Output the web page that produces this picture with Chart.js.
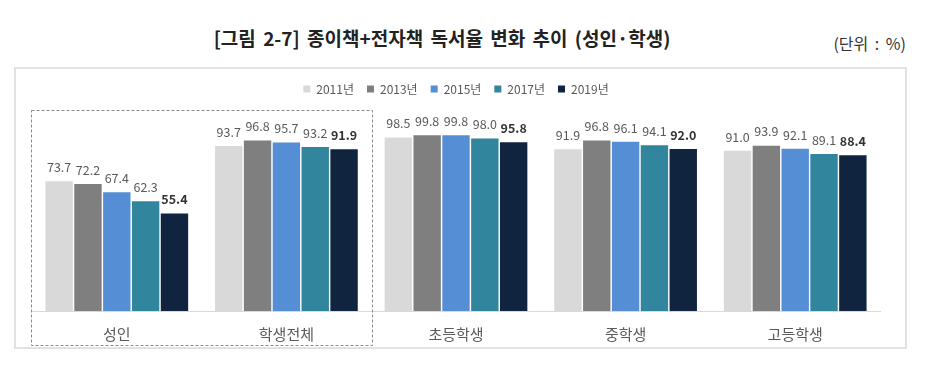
<!DOCTYPE html>
<html>
<head>
<meta charset="utf-8">
<script src="https://cdn.jsdelivr.net/npm/chart.js@4"></script>
<style>
  html, body { margin:0; padding:0; background:#fff; width:936px; height:372px; overflow:hidden; font-family:'Noto Sans CJK KR', sans-serif; }
  #title { position:absolute; left:0; top:26px; width:884px; text-align:center; font-size:19px; line-height:24px; font-weight:bold; color:#222; word-spacing:3px; }
  #unit { position:absolute; right:30px; top:33px; font-size:16px; line-height:20px; color:#333; word-spacing:3px; }
  #frame { position:absolute; left:14px; top:67px; width:893px; height:282px; box-sizing:border-box; border:2px solid #E2E2E2; }
  #wrap { position:absolute; left:0; top:0; width:936px; height:372px; }
  #dash { position:absolute; left:0; top:0; pointer-events:none; }
</style>
</head>
<body>
<div id="title">[그림 2-7] 종이책+전자책 독서율 변화 추이 (성인·학생)</div>
<div id="unit">(단위 : %)</div>
<div id="frame"></div>
<div id="wrap"><canvas id="c" width="936" height="372"></canvas></div>
<svg id="dash" width="936" height="372"><rect x="31.5" y="110.5" width="341" height="235" fill="none" stroke="#8A8A8A" stroke-width="1" stroke-dasharray="3,2"/></svg>
<script>
const categories = ['성인', '학생전체', '초등학생', '중학생', '고등학생'];
const seriesNames = ['2011년', '2013년', '2015년', '2017년', '2019년'];
const y2011 = [73.7, 93.7, 98.5, 91.9, 91.0];
const y2013 = [72.2, 96.8, 99.8, 96.8, 93.9];
const y2015 = [67.4, 95.7, 99.8, 96.1, 92.1];
const y2017 = [62.3, 93.2, 98.0, 94.1, 89.1];
const y2019 = [55.4, 91.9, 95.8, 92.0, 88.4];
const colors = ['#D9D9D9', '#7F7F7F', '#558ED5', '#31859C', '#11243F'];

Chart.defaults.font.family = "'Noto Sans CJK KR', sans-serif";

const seriesValues = [y2011, y2013, y2015, y2017, y2019];
const datasets = seriesValues.map((v, i) => ({
  label: seriesNames[i],
  data: v,
  backgroundColor: colors[i],
  borderWidth: 0,
  categoryPercentage: 0.85,
  barPercentage: 0.95
}));

const valueLabels = {
  id: 'valueLabels',
  afterDatasetsDraw(chart) {
    const ctx = chart.ctx;
    ctx.save();
    ctx.textAlign = 'center';
    ctx.textBaseline = 'middle';
    chart.data.datasets.forEach((ds, di) => {
      const meta = chart.getDatasetMeta(di);
      const last = di === chart.data.datasets.length - 1;
      ctx.font = (last ? 'bold ' : '') + "12.5px 'Noto Sans CJK KR', sans-serif";
      ctx.fillStyle = last ? '#333333' : '#595959';
      meta.data.forEach((el, j) => {
        ctx.fillText(ds.data[j].toFixed(1), el.x, el.y - 14);
      });
    });
    ctx.restore();
  }
};

new Chart(document.getElementById('c'), {
  type: 'bar',
  data: { labels: categories, datasets },
  options: {
    responsive: false,
    animation: false,
    layout: { padding: { left: 32, right: 56, top: 70, bottom: 15 } },
    plugins: {
      legend: {
        position: 'top',
        labels: {
          boxWidth: 7, boxHeight: 7, padding: 13,
          color: '#595959',
          font: { size: 12 }
        }
      },
      tooltip: { enabled: false }
    },
    scales: {
      x: {
        grid: { display: false, drawTicks: false },
        border: { display: true, color: '#D9D9D9', width: 1 },
        ticks: { color: '#595959', font: { size: 15 }, padding: 14 }
      },
      y: {
        display: false,
        min: 0,
        max: 117
      }
    }
  },
  plugins: [valueLabels]
});
</script>
</body>
</html>
